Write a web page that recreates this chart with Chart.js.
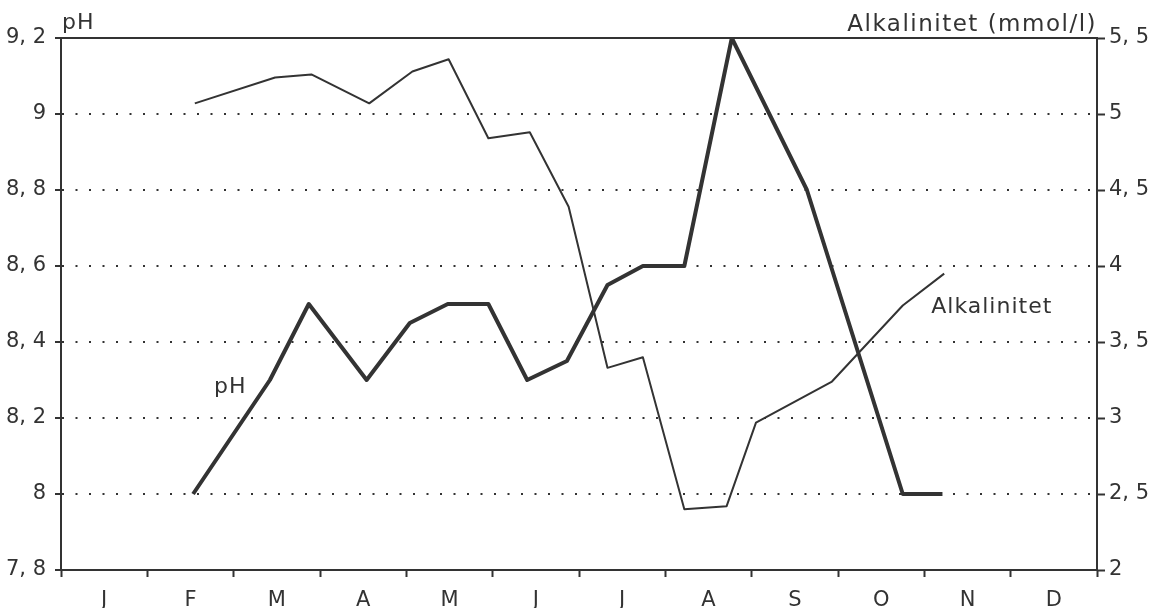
<!DOCTYPE html>
<html>
<head>
<meta charset="utf-8">
<script src="https://cdn.jsdelivr.net/npm/chart.js@4.4.1/dist/chart.umd.min.js"></script>
<style>
  html, body { margin: 0; padding: 0; background: #fff; }
  #wrap { width: 1166px; height: 608px; position: relative; }
</style>
</head>
<body>
<div id="wrap"><canvas id="c" width="1166" height="608"></canvas></div>
<script>
// Month initials along the bottom axis
const monthLabels = ['J', 'F', 'M', 'A', 'M', 'J', 'J', 'A', 'S', 'O', 'N', 'D'];

// Sampling times in fractional months (0 = start of January, 12 = end of December)
const phMonths  = [1.53, 2.42, 2.87, 3.54, 4.04, 4.48, 4.95, 5.40, 5.86, 6.33, 6.74, 7.22, 7.77, 8.64, 9.75, 10.21];
const phValues  = [8.00, 8.30, 8.50, 8.30, 8.45, 8.50, 8.50, 8.30, 8.35, 8.55, 8.60, 8.60, 9.20, 8.80, 8.00, 8.00];

const alkMonths = [1.55, 2.48, 2.90, 3.57, 4.07, 4.49, 4.95, 5.43, 5.88, 6.33, 6.74, 7.22, 7.71, 8.05, 8.93, 9.75, 10.23];
const alkValues = [5.07, 5.24, 5.26, 5.07, 5.28, 5.36, 4.84, 4.88, 4.39, 3.33, 3.40, 2.40, 2.42, 2.97, 3.24, 3.74, 3.95];

// Axis ticks
const phTicks  = [7.8, 8.0, 8.2, 8.4, 8.6, 8.8, 9.0, 9.2];
const alkTicks = [2, 2.5, 3, 3.5, 4, 4.5, 5, 5.5];

const ink = '#333';
const fontFamily = '"DejaVu Sans", sans-serif';

// Decimal comma with a space, as in "9, 2"
const fmt = v => Number.isInteger(v) ? String(v) : v.toFixed(1).replace('.', ', ');

const toPoints = (xs, ys) => xs.map((x, i) => ({ x, y: ys[i] }));

// Top frame line and the text labels
const frame = {
  id: 'frame',
  beforeDatasetsDraw(chart) {
    const { ctx, chartArea: a } = chart;
    ctx.save();
    ctx.strokeStyle = ink;
    ctx.lineWidth = 2;
    ctx.beginPath();
    ctx.moveTo(a.left - 1, a.top);
    ctx.lineTo(a.right + 1, a.top);
    ctx.stroke();
    ctx.restore();
  },
  afterDatasetsDraw(chart) {
    const { ctx, chartArea: a, scales } = chart;
    ctx.save();
    ctx.fillStyle = ink;
    ctx.font = '22px ' + fontFamily;
    ctx.textBaseline = 'alphabetic';
    try { ctx.letterSpacing = '1px'; } catch (e) {}

    ctx.textAlign = 'left';
    ctx.fillText('pH', a.left + 1, a.top - 9);

    ctx.textAlign = 'right';
    ctx.font = '23px ' + fontFamily;
    try { ctx.letterSpacing = '1.5px'; } catch (e) {}
    ctx.fillText('Alkalinitet (mmol/l)', a.right, a.top - 7);

    ctx.font = '22px ' + fontFamily;
    try { ctx.letterSpacing = '1px'; } catch (e) {}
    ctx.textAlign = 'center';
    ctx.fillText('pH', scales.x.getPixelForValue(1.96), scales.y.getPixelForValue(8.266));

    ctx.textAlign = 'left';
    ctx.fillText('Alkalinitet', scales.x.getPixelForValue(10.08), scales.y2.getPixelForValue(3.69));
    ctx.restore();
  }
};

new Chart(document.getElementById('c'), {
  type: 'line',
  data: {
    datasets: [
      {
        label: 'pH',
        data: toPoints(phMonths, phValues),
        yAxisID: 'y',
        borderColor: ink,
        borderWidth: 4,
        pointRadius: 0,
        tension: 0,
        borderJoinStyle: 'round',
        fill: false
      },
      {
        label: 'Alkalinitet',
        data: toPoints(alkMonths, alkValues),
        yAxisID: 'y2',
        borderColor: ink,
        borderWidth: 2,
        pointRadius: 0,
        tension: 0,
        borderJoinStyle: 'round',
        fill: false
      }
    ]
  },
  options: {
    responsive: false,
    animation: false,
    events: [],
    layout: { padding: { top: 38, left: 0, right: 0, bottom: 0 } },
    plugins: { legend: { display: false }, tooltip: { enabled: false } },
    scales: {
      x: {
        type: 'linear',
        position: 'bottom',
        min: 0,
        max: 12,
        afterBuildTicks: s => {
          const t = [];
          for (let i = 0; i <= monthLabels.length; i++) {
            t.push({ value: i });
            if (i < monthLabels.length) t.push({ value: i + 0.5 });
          }
          s.ticks = t;
        },
        afterFit: s => { s.height = 38; },
        ticks: {
          autoSkip: false,
          maxRotation: 0,
          color: ink,
          font: { family: fontFamily, size: 21 },
          padding: 11,
          callback: v => (v % 1 === 0.5) ? monthLabels[Math.floor(v)] : ''
        },
        grid: {
          drawOnChartArea: false,
          drawTicks: true,
          tickLength: 7,
          tickWidth: 2,
          tickColor: c => (c.tick && c.tick.value % 1 === 0) ? ink : 'rgba(0,0,0,0)'
        },
        border: { display: true, color: ink, width: 2 }
      },
      y: {
        type: 'linear',
        position: 'left',
        min: 7.8,
        max: 9.2,
        afterBuildTicks: s => { s.ticks = phTicks.map(v => ({ value: v })); },
        afterFit: s => { s.width = 61; },
        ticks: {
          color: ink,
          font: { family: fontFamily, size: 21 },
          padding: 9,
          callback: v => fmt(v)
        },
        grid: {
          drawOnChartArea: true,
          drawTicks: true,
          tickLength: 6,
          tickWidth: 2,
          tickColor: ink,
          lineWidth: 2,
          color: c => (c.tick && (Math.abs(c.tick.value - 7.8) < 1e-6 || Math.abs(c.tick.value - 9.2) < 1e-6)) ? 'rgba(0,0,0,0)' : ink
        },
        border: { display: true, color: ink, width: 2, dash: [2, 11.5] }
      },
      y2: {
        type: 'linear',
        position: 'right',
        min: 2,
        max: 5.5,
        afterBuildTicks: s => { s.ticks = alkTicks.map(v => ({ value: v })); },
        afterFit: s => { s.width = 69; },
        ticks: {
          color: ink,
          font: { family: fontFamily, size: 21 },
          padding: 4,
          callback: v => fmt(v)
        },
        grid: {
          drawOnChartArea: false,
          drawTicks: true,
          tickLength: 8,
          tickWidth: 2,
          tickColor: ink
        },
        border: { display: true, color: ink, width: 2 }
      }
    }
  },
  plugins: [frame]
});
</script>
</body>
</html>
